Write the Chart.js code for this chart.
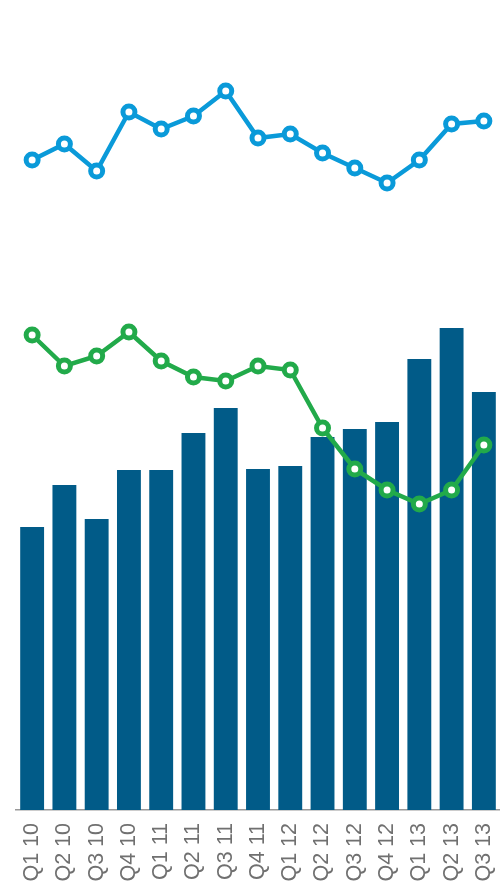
<!DOCTYPE html>
<html lang="en">
<head>
<meta charset="utf-8">
<title>Quarterly chart</title>
<script src="https://cdn.jsdelivr.net/npm/chart.js@4"></script>
<style>
  html, body { margin: 0; padding: 0; background: #fff; }
  #wrap { width: 500px; height: 886px; }
</style>
</head>
<body>
<div id="wrap"><canvas id="myChart" width="500" height="886"></canvas></div>
<script>
// values (arbitrary units, baseline = 0)
var quarters = ['Q1 10', 'Q2 10', 'Q3 10', 'Q4 10', 'Q1 11', 'Q2 11', 'Q3 11', 'Q4 11',
                'Q1 12', 'Q2 12', 'Q3 12', 'Q4 12', 'Q1 13', 'Q2 13', 'Q3 13'];
var barValues = [283, 325, 291, 340, 340, 377, 402, 341, 344, 373, 381, 388, 451, 482, 418];
var blueLine = [650, 666, 639, 698, 681, 694, 719, 672, 676, 657, 642, 627, 650, 686, 689];
var greenLine = [475, 444, 454, 478, 449, 433, 429, 444, 440, 382, 341, 320, 306, 320, 365];

var lineStyle = function (color) {
  return {
    borderColor: color,
    backgroundColor: '#ffffff',
    borderWidth: 4.5,
    pointRadius: 6,
    pointBorderWidth: 5,
    pointBackgroundColor: '#ffffff',
    pointBorderColor: color,
    tension: 0,
    clip: false,
    order: 0
  };
};

const ctx = document.getElementById('myChart').getContext('2d');
const myChart = new Chart(ctx, {
  type: 'bar',
  data: {
    labels: quarters,
    datasets: [
      Object.assign({ type: 'line', data: blueLine }, lineStyle('#0a9ad9')),
      Object.assign({ type: 'line', data: greenLine }, lineStyle('#22aa4a')),
      {
        type: 'bar',
        data: barValues,
        backgroundColor: '#015b88',
        barPercentage: 0.74,
        categoryPercentage: 1,
        order: 1
      }
    ]
  },
  options: {
    responsive: false,
    animation: false,
    layout: { autoPadding: false, padding: { left: 16, right: 0, top: 0, bottom: 0 } },
    plugins: { legend: { display: false }, tooltip: { enabled: false } },
    scales: {
      x: {
        grid: { display: false, drawTicks: false },
        border: { color: '#999999', width: 1.5 },
        ticks: {
          color: '#707070',
          minRotation: 90,
          maxRotation: 90,
          padding: 13,
          autoSkip: false,
          font: { family: 'Liberation Sans, Arial, sans-serif', size: 21.5 }
        },
        afterFit: function (scale) {
          // no extra side padding for the rotated labels, fixed axis height
          scale.paddingLeft = 0;
          scale.paddingRight = 0;
          scale.height = 76;
        }
      },
      y: {
        display: false,
        min: 0,
        max: 810
      }
    }
  }
});
</script>
</body>
</html>
